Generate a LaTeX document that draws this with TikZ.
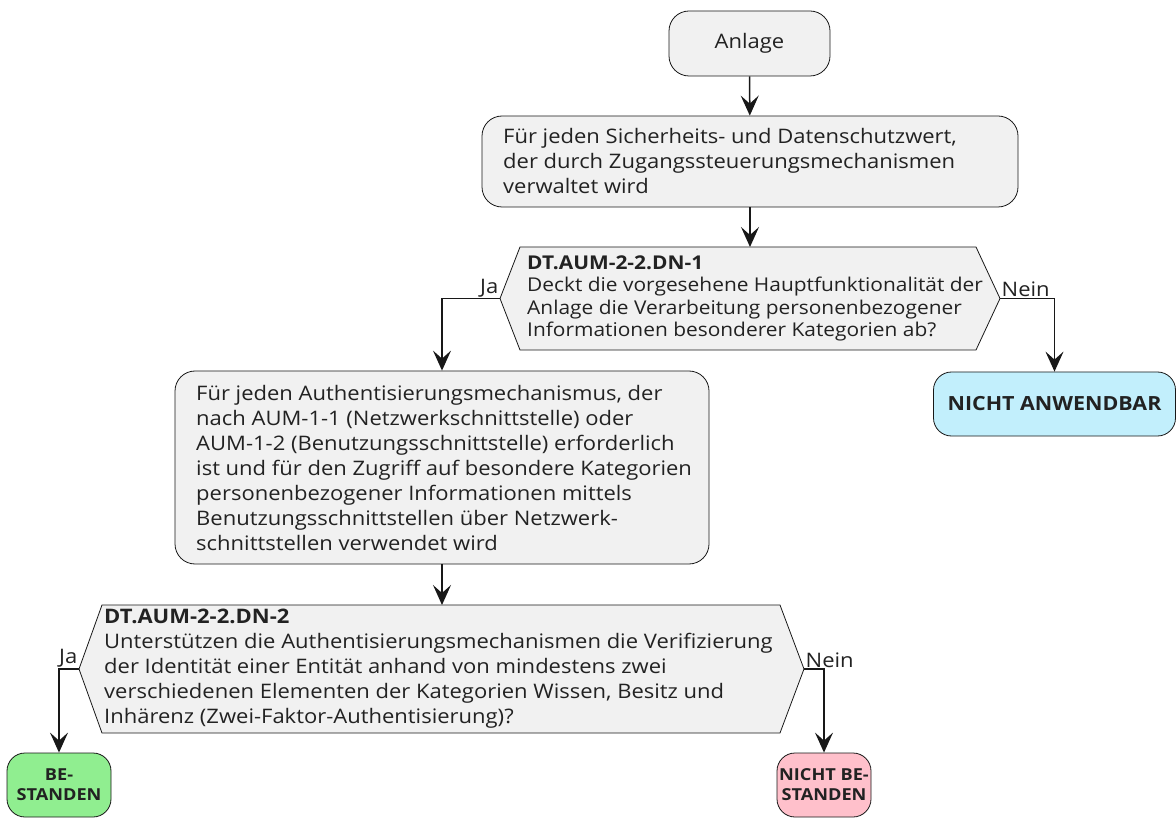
\documentclass[tikz,border=0pt]{standalone}
\usepackage{fontspec}
\setmainfont[FakeStretch=1.1]{Open Sans}
\usetikzlibrary{arrows.meta}
\definecolor{boxfill}{HTML}{F1F1F1}
\definecolor{boxline}{HTML}{181818}
\definecolor{txt}{HTML}{222222}
\definecolor{passgreen}{HTML}{90EE90}
\definecolor{failpink}{HTML}{FFC0CB}
\definecolor{nablue}{HTML}{C2EFFC}
\begin{document}
\begin{tikzpicture}[x=1pt,y=-1pt,
  every node/.style={text=txt, font=\fontsize{20}{25}\selectfont},
  activity/.style={draw=boxline, fill=boxfill, line width=0.8pt, rounded corners=20pt, inner sep=0pt},
  label text/.style={anchor=west, align=left, inner sep=0pt},
  decision/.style={draw=boxline, fill=boxfill, line width=0.8pt},
  endbox/.style={draw=boxline, line width=0.8pt, rounded corners=18pt, inner sep=0pt, align=center, font=\bfseries\fontsize{16.5}{20}\selectfont},
  flow/.style={draw=boxline, line width=1.5pt, -{Stealth[length=20pt, width=18pt, inset=8pt]}},
  branch/.style={inner sep=1.5pt}
]
\useasboundingbox (0,0) rectangle (1176,818);

% start and first loop activity
\node[activity, minimum width=161pt, minimum height=65pt] (start) at (749.5,43.5) {Anlage};
\node[activity, minimum width=536pt, minimum height=91pt] (each1) at (750,161.5) {};
\node[label text] (each1text) at (503,161.5)
  {Für jeden Sicherheits- und Datenschutzwert,\\der durch Zugangssteuerungsmechanismen\\verwaltet wird};

% first decision
\draw[decision] (500,298.5) -- (520,247) -- (976,247) -- (1000,298.5) -- (976,350) -- (520,350) -- cycle;
\coordinate (q1n) at (750,247);
\coordinate (q1w) at (500,298.5);
\coordinate (q1e) at (1000,298.5);
\node[label text, font=\fontsize{19}{22.5}\selectfont] (q1) at (527,298.5)
  {\textbf{DT.AUM-2-2.DN-1}\\Deckt die vorgesehene Hauptfunktionalität der\\Anlage die Verarbeitung personenbezogener\\Informationen besonderer Kategorien ab?};

\node[endbox, fill=nablue, minimum width=242pt, minimum height=64pt, font=\bfseries\fontsize{19.5}{24}\selectfont] (na) at (1054.5,404) {NICHT ANWENDBAR};

% second loop activity
\node[activity, minimum width=534pt, minimum height=193pt] (each2) at (442,467.5) {};
\node[label text] (each2text) at (196,467.5)
  {Für jeden Authentisierungsmechanismus, der\\nach AUM-1-1 (Netzwerkschnittstelle) oder\\AUM-1-2 (Benutzungsschnittstelle) erforderlich\\ist und für den Zugriff auf besondere Kategorien\\personenbezogener Informationen mittels\\Benutzungsschnittstellen über Netzwerk-\\schnittstellen verwendet wird};

% second decision
\draw[decision] (79,669) -- (102,605) -- (780,605) -- (804,669) -- (780,733) -- (102,733) -- cycle;
\coordinate (q2n) at (442,605);
\coordinate (q2w) at (79,669);
\coordinate (q2e) at (804,669);
\node[label text] (q2) at (104,669)
  {\textbf{DT.AUM-2-2.DN-2}\\Unterstützen die Authentisierungsmechanismen die Verifizierung\\der Identität einer Entität anhand von mindestens zwei\\verschiedenen Elementen der Kategorien Wissen, Besitz und\\Inhärenz (Zwei-Faktor-Authentisierung)?};

\node[endbox, fill=passgreen, minimum width=104pt, minimum height=64pt] (pass) at (59,785) {BE-\\STANDEN};
\node[endbox, fill=failpink, minimum width=94pt, minimum height=64pt] (fail) at (824,785) {NICHT BE-\\STANDEN};

% connectors
\draw[flow] (start) -- (each1);
\draw[flow] (each1) -- (q1n);
\draw[flow] (q1w) -| (each2.north);
\node[branch, anchor=south east] (ja1) at (q1w) {Ja};
\draw[flow] (q1e) -| (na.north);
\node[branch, anchor=south west] (nein1) at (q1e) {Nein};
\draw[flow] (each2) -- (q2n);
\draw[flow] (q2w) -| (pass.north);
\node[branch, anchor=south east] (ja2) at (q2w) {Ja};
\draw[flow] (q2e) -| (fail.north);
\node[branch, anchor=south west] (nein2) at (q2e) {Nein};
\end{tikzpicture}
\end{document}
